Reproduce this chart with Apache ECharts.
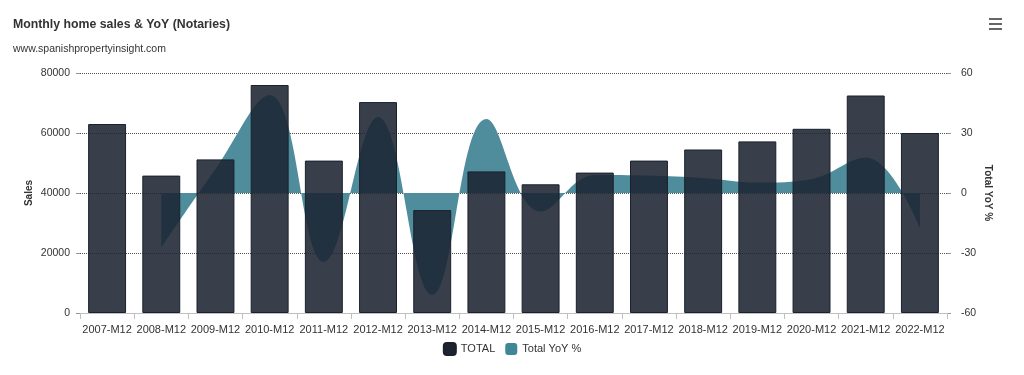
<!DOCTYPE html>
<html>
<head>
<meta charset="utf-8">
<script src="https://cdn.jsdelivr.net/npm/echarts@6/dist/echarts.min.js"></script>
<style>
html,body{margin:0;padding:0;background:#fff;}
#chart{width:1024px;height:375px;}
</style>
</head>
<body>
<div id="chart"></div>
<script>
const categories = ['2007-M12','2008-M12','2009-M12','2010-M12','2011-M12','2012-M12','2013-M12','2014-M12','2015-M12','2016-M12','2017-M12','2018-M12','2019-M12','2020-M12','2021-M12','2022-M12'];
const totalSales = [63000, 45800, 51200, 76000, 50800, 70300, 34300, 47200, 42900, 46800, 50800, 54500, 57200, 61400, 72500, 60000];
const totalYoY = [null, -27.3, 12, 49, -34.5, 38, -51, 37, -9.3, 9, 8.7, 7.5, 5.2, 7, 17.7, -17.5];
const salesTicks = [0, 20000, 40000, 60000, 80000];
const yoyTicks = [-60, -30, 0, 30, 60];

const FONT = 'Liberation Sans, Arial, Helvetica, sans-serif';
const chart = echarts.init(document.getElementById('chart'), null, {renderer: 'canvas'});
chart.setOption({
  animation: false,
  backgroundColor: '#fff',
  textStyle: {fontFamily: FONT},
  title: {
    text: 'Monthly home sales & YoY (Notaries)',
    subtext: 'www.spanishpropertyinsight.com',
    left: 8, top: 14, itemGap: 13,
    textStyle: {fontFamily: FONT, fontSize: 12.3, fontWeight: 'bold', color: '#333'},
    subtextStyle: {fontFamily: FONT, fontSize: 10.5, color: '#333'}
  },
  graphic: [
    {type: 'rect', left: 989, top: 18, shape: {width: 13, height: 2}, style: {fill: '#666'}},
    {type: 'rect', left: 989, top: 23, shape: {width: 13, height: 2}, style: {fill: '#666'}},
    {type: 'rect', left: 989, top: 28, shape: {width: 13, height: 2}, style: {fill: '#666'}}
  ],
  legend: {
    bottom: 14, left: 'center',
    itemWidth: 12, itemHeight: 12, itemGap: 10,
    icon: 'roundRect',
    textStyle: {fontFamily: FONT, fontSize: 11, color: '#333'},
    data: [
      {name: 'TOTAL', itemStyle: {color: '#1d2430'}},
      {name: 'Total YoY %', itemStyle: {color: '#3f8796'}}
    ]
  },
  grid: {left: 80, right: 77, top: 73, bottom: 62, containLabel: false},
  xAxis: {
    type: 'category', data: categories,
    axisLine: {show: true, lineStyle: {color: '#c0c0c0'}},
    axisTick: {show: true, alignWithLabel: false, length: 6, lineStyle: {color: '#c0c0c0'}},
    axisLabel: {fontFamily: FONT, fontSize: 11, color: '#333', margin: 11, interval: 0}
  },
  yAxis: [
    {
      type: 'value', min: salesTicks[0], max: salesTicks[salesTicks.length-1], interval: 20000,
      name: 'Sales', nameLocation: 'middle', nameGap: 46, nameRotate: 90, nameMoveOverlap: false,
      nameTextStyle: {fontFamily: FONT, fontSize: 10, fontWeight: 'bold', color: '#333'},
      axisLine: {show: false},
      axisTick: {show: true, length: 4, lineStyle: {color: '#999'}},
      axisLabel: {fontFamily: FONT, fontSize: 10.5, color: '#333', margin: 10, formatter: v => String(v)},
      splitLine: {show: true, lineStyle: {color: '#555', type: [1, 1], width: 1}}
    },
    {
      type: 'value', min: yoyTicks[0], max: yoyTicks[yoyTicks.length-1], interval: 30,
      name: 'Total YoY %', nameLocation: 'middle', nameGap: 36, nameRotate: -90, nameMoveOverlap: false,
      nameTextStyle: {fontFamily: FONT, fontSize: 10, fontWeight: 'bold', color: '#333'},
      axisLine: {show: false},
      axisTick: {show: true, length: 4, lineStyle: {color: '#999'}},
      axisLabel: {fontFamily: FONT, fontSize: 10.5, color: '#333', margin: 14},
      splitLine: {show: false}
    }
  ],
  series: [
    {
      name: 'Total YoY %', type: 'line', yAxisIndex: 1, data: totalYoY,
      smooth: 0.4, showSymbol: false, connectNulls: false, z: 1,
      lineStyle: {width: 0, color: '#4b8a9a'},
      itemStyle: {color: '#3f8796'},
      areaStyle: {color: '#4f8d9c', opacity: 1, origin: 0}
    },
    {
      name: 'TOTAL', type: 'bar', yAxisIndex: 0, data: totalSales,
      barCategoryGap: '30%', z: 3,
      itemStyle: {color: 'rgba(28,36,50,0.88)', borderColor: '#1a212c', borderWidth: 1}
    }
  ]
});
</script>
</body>
</html>
